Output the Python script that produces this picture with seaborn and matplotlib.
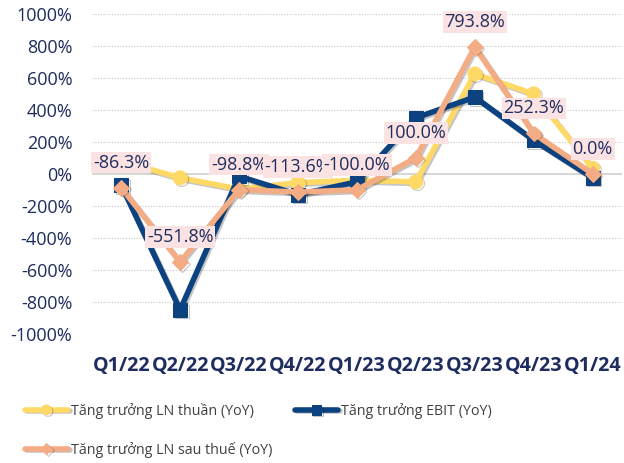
import numpy as np
import pandas as pd
import seaborn as sns
import matplotlib.pyplot as plt
from matplotlib import patheffects as pe

# ---- data ----
quarters = ['Q1/22', 'Q2/22', 'Q3/22', 'Q4/22', 'Q1/23', 'Q2/23', 'Q3/23', 'Q4/23', 'Q1/24']
ln_thuan = [80, -25, -95, -55, -40, -50, 625, 500, 35]
ebit = [-70, -850, -15, -130, -50, 350, 480, 210, -25]
ln_sau_thue = [-86.3, -551.8, -98.8, -113.6, -100.0, 100.0, 793.8, 252.3, 0.0]

names = ['Tăng trưởng LN thuần (YoY)', 'Tăng trưởng EBIT (YoY)', 'Tăng trưởng LN sau thuế (YoY)']
colors = ['#FFD966', '#0D4280', '#F4AC84']
markers = ['o', 's', 'D']
msizes = [10, 10, 8]

navy = '#1F2D5E'

sns.set_theme(style='white')
plt.rcParams['font.family'] = ['Open Sans', 'DejaVu Sans']

fig = plt.figure(figsize=(6.24, 4.63), dpi=100)
ax = fig.add_axes([0.147, 0.279, 0.85, 0.691])

x = np.arange(len(quarters))
shadow = [pe.SimpleLineShadow(offset=(1.2, -1.2), alpha=0.25), pe.Normal()]

for vals, name, c, m, ms in zip([ln_thuan, ebit, ln_sau_thue], names, colors, markers, msizes):
    sns.lineplot(x=x, y=vals, ax=ax, color=c, linewidth=4, marker=m, markersize=ms,
                 markeredgecolor=c, label=name, sort=False, path_effects=shadow)

# data labels for LN sau thue
for xi, v in zip(x, ln_sau_thue):
    ax.annotate(f'{v:.1f}%', (xi, v), xytext=(0, 18), textcoords='offset points',
                ha='center', va='center', fontsize=13, color=navy, zorder=10,
                bbox=dict(boxstyle='square,pad=0.1', fc='#FBE3E3', ec='none'))

ax.set_xlim(-0.5, len(quarters) - 0.5)
ax.set_ylim(-1000, 1000)
ax.set_yticks(np.arange(-1000, 1001, 200))
ax.set_yticklabels([f'{t}%' for t in range(-1000, 1001, 200)])
ax.set_xticks(x)
ax.set_xticklabels(quarters, fontweight='bold')
ax.tick_params(axis='y', colors=navy, labelsize=13, length=0, pad=14)
ax.tick_params(axis='x', colors=navy, labelsize=14.2, length=0, pad=16)

for t in np.arange(-1000, 1001, 200):
    if t != 0:
        ax.axhline(t, color='#C8C8C8', linestyle=(0, (1, 1.5)), linewidth=0.8, zorder=0)
ax.axhline(0, color='#D0D0D0', linewidth=1.2, zorder=0)
ax.grid(False)
sns.despine(ax=ax, left=True, bottom=True)

ax.get_legend().remove()
handles, labels = ax.get_legend_handles_labels()
order = [0, 2, 1]
fig.legend([handles[i] for i in order], [labels[i] for i in order],
           loc='upper left', bbox_to_anchor=(0.04, 0.13), ncol=2,
           frameon=False, fontsize=10.3, handlelength=3.0, handletextpad=0.2,
           columnspacing=1.6, labelspacing=1.6, labelcolor='#404040',
           markerscale=0.7, borderaxespad=0, borderpad=0)

fig.savefig('out.png', dpi=100)
